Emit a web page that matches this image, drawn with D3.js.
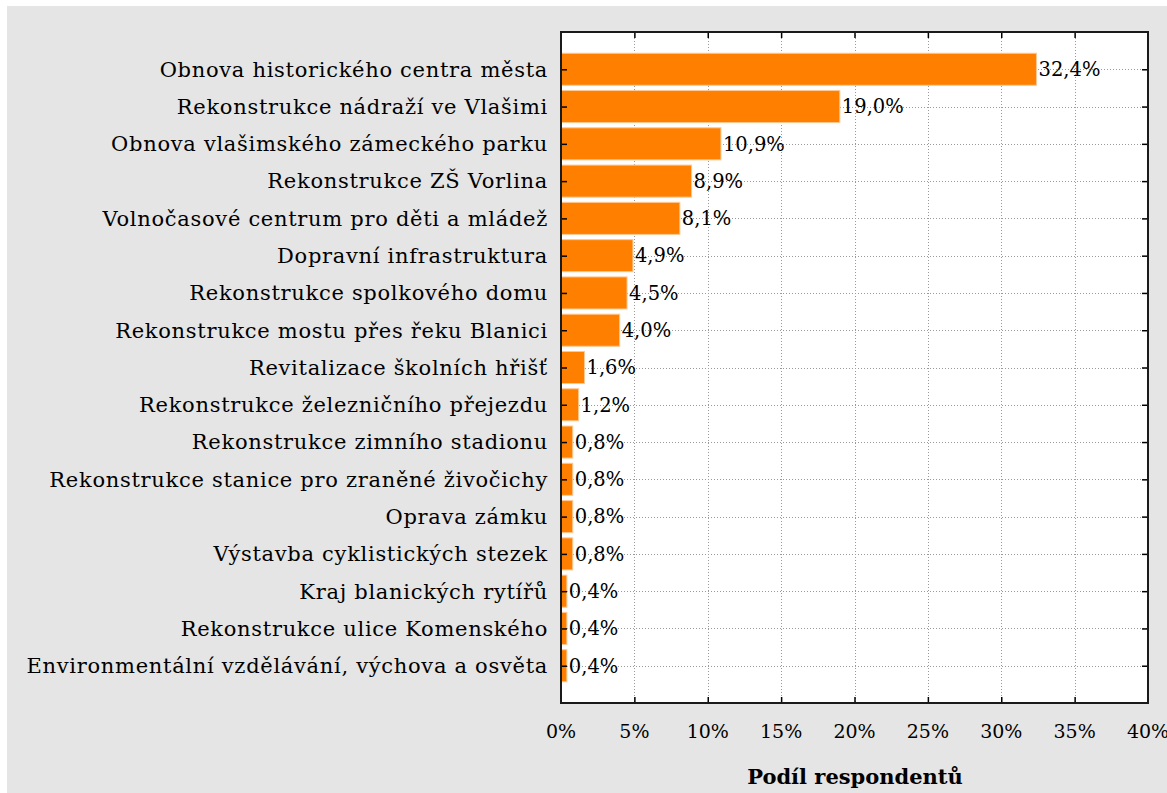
<!DOCTYPE html>
<html>
<head>
<meta charset="utf-8">
<script src="https://cdn.jsdelivr.net/npm/d3@7"></script>
<style>
  body { margin: 0; background: #fff; }
  svg { display: block; }
</style>
</head>
<body>
<div id="chart"></div>
<script>
var w = 1167;
var h = 793;

var categories = [
  "Obnova historického centra města",
  "Rekonstrukce nádraží ve Vlašimi",
  "Obnova vlašimského zámeckého parku",
  "Rekonstrukce ZŠ Vorlina",
  "Volnočasové centrum pro děti a mládež",
  "Dopravní infrastruktura",
  "Rekonstrukce spolkového domu",
  "Rekonstrukce mostu přes řeku Blanici",
  "Revitalizace školních hřišť",
  "Rekonstrukce železničního přejezdu",
  "Rekonstrukce zimního stadionu",
  "Rekonstrukce stanice pro zraněné živočichy",
  "Oprava zámku",
  "Výstavba cyklistických stezek",
  "Kraj blanických rytířů",
  "Rekonstrukce ulice Komenského",
  "Environmentální vzdělávání, výchova a osvěta"
];
var values = [32.4, 19.0, 10.9, 8.9, 8.1, 4.9, 4.5, 4.0, 1.6, 1.2, 0.8, 0.8, 0.8, 0.8, 0.4, 0.4, 0.4];
var xTicks = [0, 5, 10, 15, 20, 25, 30, 35, 40];
var xTitle = "Podíl respondentů";

var plot = { left: 561, top: 32, right: 1148, bottom: 703 };
var font = "'DejaVu Serif', serif";

var svg = d3.select("#chart")
  .append("svg")
  .attr("width", w)
  .attr("height", h);

// grey panel
svg.append("rect")
  .attr("x", 7).attr("y", 6)
  .attr("width", w - 7).attr("height", h - 6)
  .attr("fill", "#e5e5e5");

// plot background
svg.append("rect")
  .attr("x", plot.left).attr("y", plot.top)
  .attr("width", plot.right - plot.left)
  .attr("height", plot.bottom - plot.top)
  .attr("fill", "#fff");

// Define scales
var xScale = d3.scaleLinear()
  .domain([0, 40])
  .range([plot.left, plot.right]);

var yScale = d3.scaleBand()
  .domain(categories)
  .range([plot.top, plot.bottom])
  .paddingInner(0.14)
  .paddingOuter(0.57);

var mid = function (d) { return yScale(d) + yScale.bandwidth() / 2; };

// dotted grid
var grid = svg.append("g")
  .attr("stroke", "#9a9a9a")
  .attr("stroke-width", 1)
  .attr("stroke-dasharray", "1,2");

grid.selectAll(".vg")
  .data(xTicks.slice(1, -1))
  .enter()
  .append("line")
  .attr("x1", function (d) { return Math.round(xScale(d)) + 0.5; })
  .attr("x2", function (d) { return Math.round(xScale(d)) + 0.5; })
  .attr("y1", plot.top)
  .attr("y2", plot.bottom);

grid.selectAll(".hg")
  .data(categories)
  .enter()
  .append("line")
  .attr("x1", plot.left)
  .attr("x2", plot.right)
  .attr("y1", function (d) { return Math.round(mid(d)) + 0.5; })
  .attr("y2", function (d) { return Math.round(mid(d)) + 0.5; });

// Bars
svg.selectAll(".bar")
  .data(values)
  .enter()
  .append("rect")
  .attr("x", xScale(0))
  .attr("y", function (d, i) { return yScale(categories[i]); })
  .attr("width", function (d) { return xScale(d) - xScale(0); })
  .attr("height", yScale.bandwidth())
  .attr("fill", "#ff8000")
  .attr("stroke", "#ffc890")
  .attr("stroke-width", 1);

// value labels
var fmt = d3.format(".1f");
svg.selectAll(".val")
  .data(values)
  .enter()
  .append("text")
  .attr("x", function (d) { return xScale(d) + 2; })
  .attr("y", function (d, i) { return mid(categories[i]); })
  .attr("dy", "0.35em")
  .attr("font-family", font)
  .attr("font-size", 19.5)
  .attr("fill", "#000")
  .text(function (d) { return fmt(d).replace(".", ",") + "%"; });

// axes with inward ticks
var axisStyle = function (g) {
  g.select(".domain").remove();
  g.selectAll(".tick line").attr("stroke", "#000").attr("stroke-width", 1.5);
  g.selectAll("text").remove();
};

svg.append("g")
  .attr("transform", "translate(0," + plot.bottom + ")")
  .call(d3.axisBottom(xScale).tickValues(xTicks.slice(1, -1)).tickSize(-6))
  .call(axisStyle);

svg.append("g")
  .attr("transform", "translate(0," + plot.top + ")")
  .call(d3.axisTop(xScale).tickValues(xTicks.slice(1, -1)).tickSize(-6))
  .call(axisStyle);

var yPoint = d3.scalePoint().domain(categories).range([mid(categories[0]), mid(categories[categories.length - 1])]);

svg.append("g")
  .attr("transform", "translate(" + plot.left + ",0)")
  .call(d3.axisLeft(yPoint).tickSize(-6))
  .call(axisStyle);

svg.append("g")
  .attr("transform", "translate(" + plot.right + ",0)")
  .call(d3.axisRight(yPoint).tickSize(-6))
  .call(axisStyle);

// frame
svg.append("rect")
  .attr("x", plot.left).attr("y", plot.top)
  .attr("width", plot.right - plot.left)
  .attr("height", plot.bottom - plot.top)
  .attr("fill", "none")
  .attr("stroke", "#1a1a1a")
  .attr("stroke-width", 2);

// category labels
svg.selectAll(".cat")
  .data(categories)
  .enter()
  .append("text")
  .attr("x", plot.left - 13)
  .attr("y", mid)
  .attr("dy", "0.35em")
  .attr("text-anchor", "end")
  .attr("font-family", font)
  .attr("font-size", 21)
  .attr("letter-spacing", 0.7)
  .attr("fill", "#000")
  .text(function (d) { return d; });

// x tick labels
svg.selectAll(".xt")
  .data(xTicks)
  .enter()
  .append("text")
  .attr("x", function (d) { return xScale(d); })
  .attr("y", 738)
  .attr("text-anchor", "middle")
  .attr("font-family", font)
  .attr("font-size", 19)
  .attr("fill", "#000")
  .text(function (d) { return d + "%"; });

// axis title
svg.append("text")
  .attr("x", 855)
  .attr("y", 784)
  .attr("text-anchor", "middle")
  .attr("font-family", font)
  .attr("font-weight", "bold")
  .attr("font-size", 21)
  .attr("fill", "#000")
  .text(xTitle);
</script>
</body>
</html>
